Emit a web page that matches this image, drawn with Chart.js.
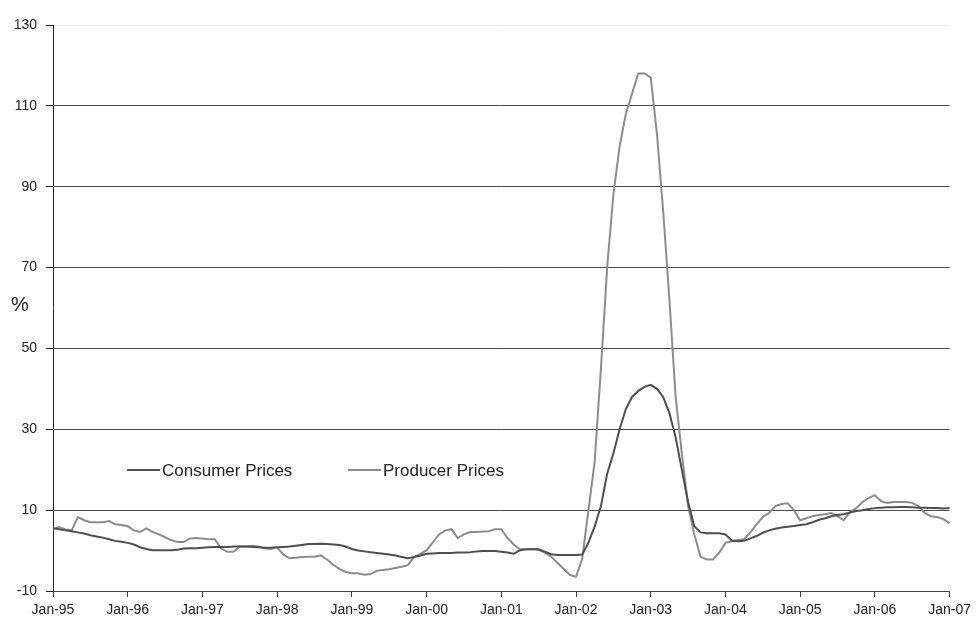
<!DOCTYPE html>
<html>
<head>
<meta charset="utf-8">
<script src="https://cdn.jsdelivr.net/npm/chart.js@4.4.1/dist/chart.umd.min.js"></script>
<style>
  html, body { margin: 0; padding: 0; background: #ffffff; }
  #wrap { width: 976px; height: 626px; position: relative; }
</style>
</head>
<body>
<div id="wrap"><canvas id="c" width="976" height="626"></canvas></div>
<script>
// Monthly year-on-year change, %, January 1995 to January 2007
const years = ['95','96','97','98','99','00','01','02','03','04','05','06','07'];
const months = [];
years.forEach((y, i) => {
  const names = ['Jan','Feb','Mar','Apr','May','Jun','Jul','Aug','Sep','Oct','Nov','Dec'];
  names.forEach((n, j) => { if (i < years.length - 1 || j === 0) months.push(n + '-' + y); });
});

const consumerPrices = [
  5.5, 5.3, 5.0, 4.8, 4.5, 4.2, 3.8, 3.5, 3.2, 2.8, 2.4, 2.2,
  1.9, 1.5, 0.8, 0.4, 0.1, 0.1, 0.1, 0.1, 0.2, 0.5, 0.6, 0.6,
  0.7, 0.8, 0.9, 0.9, 0.9, 1.0, 1.0, 1.0, 0.9, 0.8, 0.7, 0.7,
  0.8, 0.9, 1.0, 1.2, 1.4, 1.6, 1.6, 1.7, 1.6, 1.5, 1.4, 1.0,
  0.4, 0.0, -0.2, -0.4, -0.6, -0.8, -1.0, -1.2, -1.6, -1.9, -1.6, -1.2,
  -0.8, -0.7, -0.6, -0.6, -0.6, -0.5, -0.5, -0.4, -0.2, -0.1, -0.1, -0.1,
  -0.3, -0.5, -0.8, 0.1, 0.3, 0.3, 0.3, -0.3, -0.9, -1.1, -1.1, -1.1,
  -1.1, -1.0, 2.0, 6.0, 11.0, 19.0, 24.0, 30.0, 35.0, 38.0, 39.5, 40.5,
  41.0, 40.0, 38.0, 34.0, 28.0, 20.0, 12.0, 6.0, 4.5, 4.3, 4.3, 4.3,
  4.0, 2.5, 2.3, 2.4, 3.0, 3.6, 4.4, 5.0, 5.4, 5.7, 5.9, 6.1,
  6.3, 6.5, 7.0, 7.6, 8.0, 8.5, 8.8, 9.0, 9.4, 9.8, 10.0, 10.3,
  10.5, 10.6, 10.7, 10.7, 10.8, 10.8, 10.7, 10.6, 10.6, 10.5, 10.5, 10.4,
  10.5
];

const producerPrices = [
  5.3, 5.8, 5.2, 5.0, 8.3, 7.5, 7.0, 7.0, 7.0, 7.3, 6.5, 6.3,
  6.0, 5.0, 4.6, 5.5, 4.6, 4.0, 3.3, 2.6, 2.1, 2.1, 3.0, 3.1,
  3.0, 2.8, 2.8, 0.5, -0.3, -0.3, 1.0, 1.0, 1.2, 1.0, 0.5, 0.4,
  0.8, -1.0, -1.9, -1.8, -1.6, -1.5, -1.5, -1.2, -2.2, -3.5, -4.5, -5.3,
  -5.6, -5.6, -6.0, -5.8, -5.0, -4.8, -4.6, -4.3, -4.0, -3.6, -1.6, -0.8,
  0.1, 2.0, 4.0, 5.0, 5.3, 3.1, 4.0, 4.6, 4.6, 4.7, 4.8, 5.3,
  5.3, 3.1, 1.5, 0.3, 0.3, 0.4, 0.2, -0.5, -1.5, -3.0, -4.5, -6.0,
  -6.5, -2.0, 10.0, 22.0, 45.0, 70.0, 88.0, 100.0, 108.0, 113.0, 118.0, 118.0,
  117.0, 103.0, 84.0, 62.0, 38.0, 24.0, 11.0, 4.0, -1.5, -2.2, -2.2, -0.5,
  1.9, 2.3, 2.6, 2.8, 4.5, 6.5, 8.3, 9.3, 11.0, 11.5, 11.7, 10.0,
  7.5, 8.0, 8.5, 8.8, 9.0, 9.3, 8.5, 7.5, 9.5, 10.5, 12.0, 13.0,
  13.7, 12.2, 11.8, 12.0, 12.0, 12.0, 11.8, 11.0, 9.3, 8.5, 8.3, 7.8,
  6.8
];

const yTicks = [-10, 10, 30, 50, 70, 90, 110, 130];
const unitLabel = '%';

const tickFont = { family: '"Liberation Sans", Arial, sans-serif', size: 14 };

// Legend drawn inside the plot area, on one row, plus the unit label
const innerLegend = {
  id: 'innerLegend',
  afterDatasetsDraw(chart) {
    const ctx = chart.ctx;
    const items = [{ x: 127, ds: chart.data.datasets[0] }, { x: 348, ds: chart.data.datasets[1] }];
    const y = 470;
    ctx.save();
    ctx.font = '17px "Liberation Sans", Arial, sans-serif';
    ctx.textBaseline = 'middle';
    ctx.fillStyle = '#222';
    items.forEach(it => {
      ctx.strokeStyle = it.ds.borderColor;
      ctx.lineWidth = 2;
      ctx.beginPath();
      ctx.moveTo(it.x, y);
      ctx.lineTo(it.x + 33, y);
      ctx.stroke();
      ctx.fillText(it.ds.label, it.x + 35, y + 1);
    });
    ctx.font = '20px "Liberation Sans", Arial, sans-serif';
    ctx.fillText(unitLabel, 11, 305);
    ctx.restore();
  }
};

new Chart(document.getElementById('c'), {
  type: 'line',
  data: {
    labels: months,
    datasets: [
      {
        label: 'Consumer Prices',
        data: consumerPrices,
        borderColor: '#4e4e4e',
        borderWidth: 2,
        pointRadius: 0,
        tension: 0,
        fill: false
      },
      {
        label: 'Producer Prices',
        data: producerPrices,
        borderColor: '#8c8c8c',
        borderWidth: 2,
        pointRadius: 0,
        tension: 0,
        fill: false
      }
    ]
  },
  options: {
    responsive: false,
    animation: false,
    layout: { padding: { top: 25, right: 26, left: 0, bottom: 0 } },
    plugins: {
      legend: { display: false },
      tooltip: { enabled: false }
    },
    scales: {
      x: {
        type: 'category',
        offset: false,
        border: { display: true, color: '#444', width: 1 },
        grid: {
          drawOnChartArea: false,
          drawTicks: true,
          tickLength: 6,
          color: '#444'
        },
        ticks: {
          autoSkip: false,
          maxRotation: 0,
          padding: 5,
          color: '#222',
          font: tickFont,
          callback(value, index) {
            return index % 12 === 0 ? months[index] : null;
          }
        },
        afterFit(scale) { scale.height = 35; }
      },
      y: {
        min: yTicks[0],
        max: yTicks[yTicks.length - 1],
        border: { display: true, color: '#222', width: 1 },
        grid: {
          color: ctx => (ctx.tick && ctx.tick.value === 130) ? '#ececec' : '#4a4a4a',
          lineWidth: 1,
          tickLength: 7,
          tickColor: '#222'
        },
        ticks: {
          stepSize: 20,
          padding: 9,
          color: '#222',
          font: tickFont
        },
        afterBuildTicks(scale) { scale.ticks = yTicks.map(v => ({ value: v })); },
        afterFit(scale) { scale.width = 53; }
      }
    }
  },
  plugins: [innerLegend]
});
</script>
</body>
</html>
